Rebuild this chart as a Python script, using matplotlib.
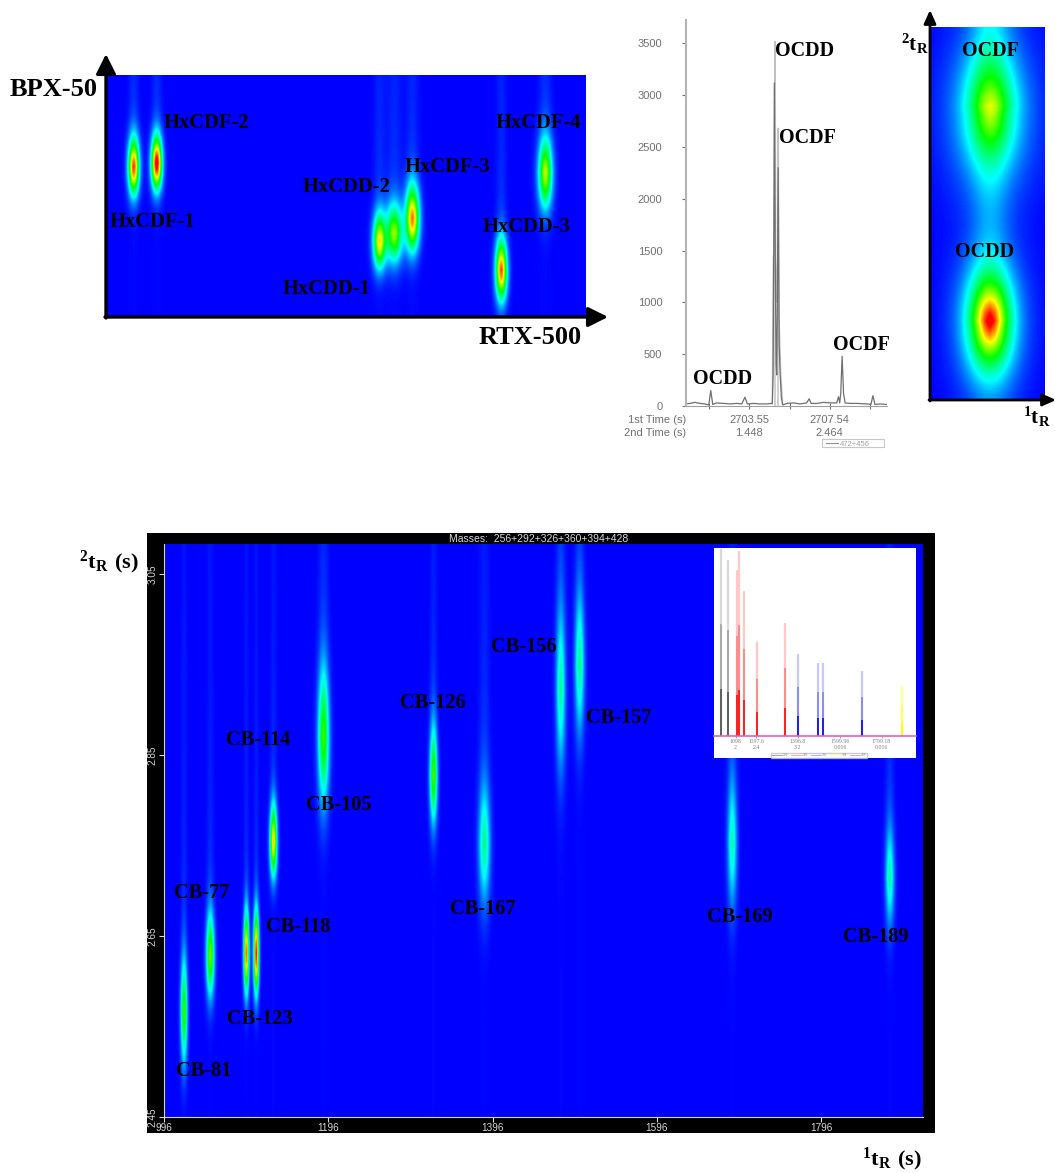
import numpy as np
import matplotlib
matplotlib.use('Agg')
import matplotlib.pyplot as plt
from matplotlib.colors import LinearSegmentedColormap
from matplotlib.patches import Rectangle

plt.rcParams['font.family'] = ['Liberation Serif', 'DejaVu Serif']
plt.rcParams['mathtext.fontset'] = 'custom'
plt.rcParams['mathtext.bf'] = 'Liberation Serif:bold'
plt.rcParams['mathtext.rm'] = 'Liberation Serif:bold'

W, H = 1055, 1173

# hexa dioxins / furans, top left panel (relative units 0-100)
hx_names = ['HxCDF-1', 'HxCDF-2', 'HxCDD-1', 'HxCDD-2', 'HxCDF-3', 'HxCDD-3', 'HxCDF-4']
hx_x = [5.5, 10.3, 56.9, 60.0, 63.8, 82.4, 91.6]
hx_y = [61.6, 63.2, 30.6, 33.9, 40.1, 18.6, 58.7]
hx_h = [0.88, 1.0, 0.70, 0.58, 0.82, 0.86, 0.62]
hx_sx = [0.75, 0.73, 0.87, 1.15, 0.93, 0.78, 0.96]
hx_sy = [7.2, 6.8, 7.0, 7.5, 8.3, 7.7, 9.0]

# OCDD/OCDF chromatogram
trace_t = [2700.40, 2700.60, 2700.85, 2701.10, 2701.34, 2701.53, 2701.63, 2701.73, 2701.92,
           2702.26, 2702.59, 2702.92, 2703.17, 2703.33, 2703.45, 2703.75, 2704.08, 2704.41,
           2704.69, 2704.73, 2704.76, 2704.79, 2704.84, 2704.88, 2704.91, 2704.94, 2704.98,
           2705.03, 2705.08, 2705.14, 2705.21, 2705.41, 2705.74, 2706.07, 2706.40, 2706.52,
           2706.62, 2706.90, 2707.23, 2707.56, 2707.89, 2707.98, 2708.04, 2708.09, 2708.16,
           2708.23, 2708.31, 2708.56, 2708.89, 2709.39, 2709.59, 2709.69, 2709.79, 2710.05, 2710.38]
trace_i = [20, 25, 35, 25, 20, 10, 150, 15, 30,
           25, 20, 25, 20, 85, 20, 25, 20, 20,
           25, 300, 1500, 3120, 1300, 400, 300, 1000, 2300,
           600, 300, 80, 10, 25, 30, 20, 30, 70,
           25, 25, 35, 30, 30, 90, 30, 120, 480,
           120, 30, 25, 25, 20, 15, 100, 15, 20, 15]
shadow_t = [2704.69, 2704.74, 2704.80, 2704.83, 2704.86, 2704.90, 2704.96, 2704.99, 2705.02, 2705.10, 2705.20]
shadow_i = [20, 1450, 1450, 3520, 1450, 1000, 1450, 2680, 900, 350, 20]
time_ticks = [2701.55, 2703.55, 2705.55, 2707.54, 2709.54]
time_labels = ['', '2703.55\n1.448', '', '2707.54\n2.464', '']
int_ticks = [0, 500, 1000, 1500, 2000, 2500, 3000, 3500]

# OCDF / OCDD zoom panel (relative units 0-100)
oc_names = ['OCDF', 'OCDD']
oc_x = [52.8, 52.2]
oc_y = [77.8, 20.1]
oc_h = [0.60, 1.0]
oc_sx = [15.0, 11.0]
oc_sy = [9.0, 7.2]

# PCB contour plot
cb_names = ['CB-81', 'CB-77', 'CB-123', 'CB-118', 'CB-114', 'CB-105',
            'CB-126', 'CB-167', 'CB-156', 'CB-157', 'CB-169', 'CB-189']
cb_t1 = [1020, 1052, 1096, 1108, 1129, 1190, 1324, 1386, 1479, 1502, 1688, 1880]
cb_t2 = [2.563, 2.626, 2.629, 2.629, 2.753, 2.867, 2.825, 2.747, 2.917, 2.945, 2.747, 2.711]
cb_h = [0.48, 0.54, 0.84, 0.92, 0.72, 0.48, 0.50, 0.29, 0.27, 0.29, 0.25, 0.26]
cb_sx = [2.6, 3.2, 2.1, 2.1, 2.8, 4.4, 3.0, 4.6, 3.8, 3.8, 3.8, 3.6]
cb_sy = [0.035, 0.028, 0.027, 0.027, 0.024, 0.046, 0.033, 0.041, 0.055, 0.048, 0.044, 0.034]
t1_ticks = [996, 1196, 1396, 1596, 1796]
t2_ticks = [2.45, 2.65, 2.85, 3.05]

# inset chromatogram
in_x_k = [1027.5, 1061]
in_h_k = [560, 528]
in_x_r = [1103, 1116, 1138, 1200.6, 1335]
in_h_r = [498, 556, 436, 283, 340]
in_x_b = [1398, 1494, 1518, 1707]
in_h_b = [246, 220, 218, 196]
in_x_y = [1899]
in_h_y = [150]
in_ticks = [1098, 1197.6, 1396.8, 1599.96, 1799.18]
in_labels = ['1098\n2', '1197.6\n2.4', '1396.8\n3.2', '1599.96\n0.016', '1799.18\n0.016']
in_masses = ['292', '326', '360', '394', '428']

cmap = LinearSegmentedColormap.from_list('gcxgc', ['#0000ff', '#00ffff', '#00ff00', '#ffff00', '#ff0000'])


def px_axes(x0, y0, x1, y1, **kw):
    return fig.add_axes([x0 / W, 1 - y1 / H, (x1 - x0) / W, (y1 - y0) / H], **kw)


def peaks(xg, yg, xs, ys, hs, sxs, sys, up=1.1, streak=0.02, plume=0.07, p=1.85):
    X, Y = np.meshgrid(xg, yg)
    z = np.zeros_like(X)
    for x, y, h, sx, sy in zip(xs, ys, hs, sxs, sys):
        dx = (X - x) / sx
        dy = (Y - y) / np.where(Y > y, sy * up, sy)
        z += h * np.exp(-0.5 * np.sqrt(dx ** 2 + dy ** 2) ** p)
        # faint wrap-around streak, mostly above the peak
        band = np.exp(-0.5 * dx ** 2)
        fade = np.where(Y > y, np.exp(-(Y - y) / (3.5 * sy)), np.exp((Y - y) / sy))
        z += band * (streak * np.where(Y > y, 1.0, 0.25) + plume * fade)
    return z


fig = plt.figure(figsize=(W / 100, H / 100), dpi=100, facecolor='white')

bg = px_axes(0, 0, W, H, zorder=0)
bg.set_xlim(0, W)
bg.set_ylim(H, 0)
bg.axis('off')
bg.add_patch(Rectangle((147, 533), 788, 600, color='black', lw=0))

# top left
ax1 = px_axes(107, 75, 585, 317, zorder=1)
xg = np.linspace(0, 100, 480)
yg = np.linspace(0, 100, 243)
ax1.imshow(peaks(xg, yg, hx_x, hx_y, hx_h, hx_sx, hx_sy, streak=0.03, plume=0.05), cmap=cmap, vmin=0, vmax=1,
           origin='lower', extent=[0, 100, 0, 100], aspect='auto', interpolation='bilinear')
ax1.axis('off')

# chromatogram
ax2 = px_axes(686, 20, 887, 406, zorder=1)
ax2.vlines([2704.82, 2704.98], 0, [3520, 2680], color='#c8c8c8', lw=1.2)
ax2.plot(shadow_t, shadow_i, color='#c0c0c0', lw=1.0)
ax2.plot(trace_t, trace_i, color='#707070', lw=0.9)
ax2.set_xlim(2700.40, 2710.39)
ax2.set_ylim(0, 3726)
ax2.set_yticks(int_ticks)
ax2.set_xticks(time_ticks)
ax2.set_xticklabels(time_labels)
ax2.tick_params(colors='#707070', labelsize=8, length=3, width=0.8)
ax2.tick_params(axis='y', pad=14)
ax2.tick_params(axis='x', length=5, direction='inout', pad=4)
for t in ax2.get_xticklabels() + ax2.get_yticklabels():
    t.set_family('Liberation Sans')
    t.set_linespacing(1.35)
for s in ['top', 'right']:
    ax2.spines[s].set_visible(False)
ax2.spines['left'].set_color('#b4b4b4')
ax2.spines['left'].set_linewidth(1.5)
ax2.spines['bottom'].set_color('#a0a0a0')

# OCDF / OCDD zoom
ax3 = px_axes(930, 27, 1045, 400, zorder=1)
xg = np.linspace(0, 100, 24)
yg = np.linspace(0, 100, 40)
ax3.imshow(peaks(xg, yg, oc_x, oc_y, oc_h, oc_sx, oc_sy, up=1.0, streak=0.08, plume=0.0, p=1.4), cmap=cmap, vmin=0, vmax=1,
           origin='lower', extent=[0, 100, 0, 100], aspect='auto', interpolation='bilinear')
ax3.axis('off')

# PCB plot
ax4 = px_axes(164, 544, 923, 1117, zorder=1)
xl = (996, 1920)
yl = (2.45, 3.083)
xg = np.linspace(xl[0], xl[1], 1100)
yg = np.linspace(yl[0], yl[1], 600)
ax4.imshow(peaks(xg, yg, cb_t1, cb_t2, cb_h, cb_sx, cb_sy), cmap=cmap, vmin=0, vmax=1,
           origin='lower', extent=[xl[0], xl[1], yl[0], yl[1]], aspect='auto', interpolation='bilinear')
ax4.set_xlim(xl)
ax4.set_ylim(yl)
ax4.set_xticks(t1_ticks)
ax4.set_yticks(t2_ticks)
ax4.set_yticklabels(['%.2f' % v for v in t2_ticks], rotation=90, va='center')
ax4.tick_params(colors='#d8d8d8', labelsize=7.2, length=3.5, width=0.8, pad=1)
for t in ax4.get_xticklabels() + ax4.get_yticklabels():
    t.set_family('Liberation Sans')
for s in ['top', 'right']:
    ax4.spines[s].set_visible(False)
for s in ['left', 'bottom']:
    ax4.spines[s].set_color('#d8d8d8')
ax4.set_title('Masses:  256+292+326+360+394+428', color='#d8d8d8', fontsize=7.5, family='Liberation Sans', pad=1.5, x=0.494)

# inset
ax5 = px_axes(714, 548, 916, 758, zorder=2)
for xs, hs, light, mid, dark in [(in_x_k, in_h_k, '#d8d8d8', '#a0a0a0', '#606060'),
                                 (in_x_r, in_h_r, '#ffc8c8', '#ff8080', '#ff2020'),
                                 (in_x_b, in_h_b, '#c8c8ff', '#8080f0', '#2020e0'),
                                 (in_x_y, in_h_y, '#ffff90', '#ffff40', '#ffff00')]:
    hs = np.array(hs)
    ax5.vlines(xs, 0, hs, color=light, lw=1.6)
    ax5.vlines(xs, 0, hs * 0.6, color=mid, lw=1.2)
    ax5.vlines(xs, 0, hs * 0.25, color=dark, lw=1.4)
ax5.set_xlim(994, 1965)
ax5.set_ylim(-66, 564)
ax5.set_xticks(in_ticks)
ax5.set_xticklabels(in_labels)
ax5.set_yticks([])
ax5.tick_params(axis='x', colors='#808080', labelsize=4.2, length=1.5, width=0.5, pad=1)
for t in ax5.get_xticklabels():
    t.set_family('Liberation Sans')
for k, s in ax5.spines.items():
    s.set_visible(k == 'bottom')
ax5.spines['bottom'].set_position(('data', 0))
ax5.spines['bottom'].set_color('#e060c8')
ax5.spines['bottom'].set_linewidth(1.2)
for m, c in zip(in_masses, ['#808080', '#ff9090', '#9090ff', '#ffff60', '#e080d0']):
    ax5.plot([], [], color=c, lw=0.5, label=m)
ax5.legend(loc='lower center', ncol=5, fontsize=2.5, frameon=True, fancybox=False, edgecolor='#c0c0c0',
           borderpad=0.2, handlelength=3, columnspacing=0.8, handletextpad=0.3, borderaxespad=0,
           bbox_to_anchor=(0.52, 0.0), labelcolor='#808080')

# overlay with labels and arrows
ov = px_axes(0, 0, W, H, zorder=5)
ov.set_xlim(0, W)
ov.set_ylim(H, 0)
ov.axis('off')
ov.patch.set_alpha(0)


def lab(s, x, y, size=14.7):
    ov.text(x, y + 2, s, fontsize=size, fontweight='bold', color='black', ha='center', va='center')


def gray(s, x, y, ha='right'):
    ov.text(x, y, s, fontsize=8, color='#707070', family='Liberation Sans', ha=ha, va='center')


def arrow(x0, y0, x1, y1, lw, hw, hl):
    ov.annotate('', xy=(x1, y1), xytext=(x0, y0),
                arrowprops=dict(arrowstyle='-|>,head_width=%g,head_length=%g' % (hw, hl), lw=lw, color='black',
                                shrinkA=0, shrinkB=0, mutation_scale=10), annotation_clip=False)


arrow(106, 318, 106, 54, 2.4, 0.6, 1.2)
arrow(105, 317, 608, 317, 2.4, 0.6, 1.2)
arrow(930, 401, 930, 10, 2.0, 0.36, 0.8)
arrow(929, 400, 1056, 400, 2.0, 0.36, 0.8)

gray('1st Time (s)', 686, 420)
gray('2nd Time (s)', 686, 433)
ov.add_patch(Rectangle((822, 439), 62, 8, fc='white', ec='#c8c8c8', lw=0.8))
ov.plot([826, 838], [443, 443], color='#909090', lw=0.8)
ov.text(840, 444, '472+456', fontsize=5.5, color='#a0a0a0', family='Liberation Sans', va='center')

lab('HxCDF-1', 152, 220, 14.8)
lab('HxCDF-2', 206, 121, 14.8)
lab('HxCDD-1', 326, 287, 14.8)
lab('HxCDD-2', 347, 185, 14.8)
lab('HxCDF-3', 447, 165, 14.8)
lab('HxCDD-3', 527, 225, 14.8)
lab('HxCDF-4', 538, 121, 14.8)
lab('BPX-50', 54, 87, 19)
lab('RTX-500', 530, 336, 19)

lab('OCDD', 805, 49, 14.4)
lab('OCDF', 807, 136, 14.4)
lab('OCDD', 723, 377, 14.4)
lab('OCDF', 861, 343, 14.4)
lab('OCDF', 990, 49, 14.4)
lab('OCDD', 985, 250, 14.4)
lab(r'$\mathbf{{}^{2}t_{R}}$', 915, 42, 15)
lab(r'$\mathbf{{}^{1}t_{R}}$', 1037, 415, 15)

lab('CB-81', 204, 1069)
lab('CB-77', 202, 891)
lab('CB-123', 260, 1017)
lab('CB-118', 298, 925)
lab('CB-114', 258, 738)
lab('CB-105', 339, 803)
lab('CB-126', 433, 701)
lab('CB-167', 483, 907)
lab('CB-156', 524, 645)
lab('CB-157', 619, 716)
lab('CB-169', 740, 915)
lab('CB-189', 876, 935)
lab(r'$\mathbf{{}^{2}t_{R}\ (s)}$', 109, 560, 16)
lab(r'$\mathbf{{}^{1}t_{R}\ (s)}$', 892, 1157, 16)

fig.savefig('out.png', dpi=100)
